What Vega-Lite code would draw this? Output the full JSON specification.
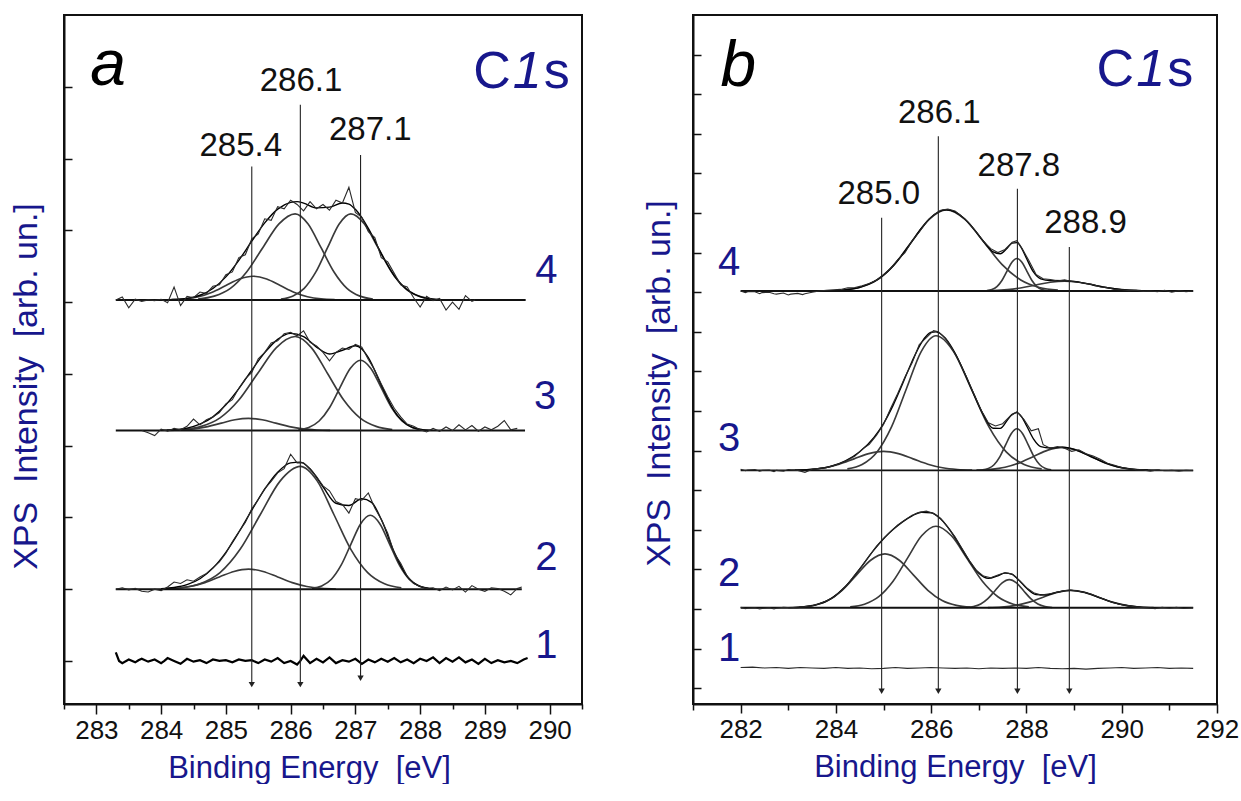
{
"$schema": "https://vega.github.io/schema/vega-lite/v6.json",
"background": "white",
"padding": {"left": 8, "top": 14, "right": 15, "bottom": 0},
"config": {"view": {"stroke": "#111", "strokeWidth": 2}, "font": "Liberation Sans"},
"spacing": 57,
"resolve": {"scale": {"x": "independent", "y": "independent"}},
"datasets": {
"A": [
{"s":"4b","k":"b","x":283.3,"y":6.03},{"s":"4b","k":"b","x":289.63,"y":6.03},
{"s":"4c1","k":"c","x":284.16,"y":6.034},{"s":"4c1","k":"c","x":284.37,"y":6.044},{"s":"4c1","k":"c","x":284.58,"y":6.075},{"s":"4c1","k":"c","x":284.79,"y":6.137},{"s":"4c1","k":"c","x":285.0,"y":6.23},{"s":"4c1","k":"c","x":285.21,"y":6.321},{"s":"4c1","k":"c","x":285.42,"y":6.36},{"s":"4c1","k":"c","x":285.63,"y":6.321},{"s":"4c1","k":"c","x":285.84,"y":6.23},{"s":"4c1","k":"c","x":286.05,"y":6.137},{"s":"4c1","k":"c","x":286.26,"y":6.075},{"s":"4c1","k":"c","x":286.47,"y":6.044},{"s":"4c1","k":"c","x":286.68,"y":6.034},
{"s":"4c2","k":"c","x":284.57,"y":6.043},{"s":"4c2","k":"c","x":284.82,"y":6.083},{"s":"4c2","k":"c","x":285.07,"y":6.192},{"s":"4c2","k":"c","x":285.32,"y":6.42},{"s":"4c2","k":"c","x":285.57,"y":6.758},{"s":"4c2","k":"c","x":285.82,"y":7.089},{"s":"4c2","k":"c","x":286.07,"y":7.23},{"s":"4c2","k":"c","x":286.27,"y":7.089},{"s":"4c2","k":"c","x":286.47,"y":6.758},{"s":"4c2","k":"c","x":286.67,"y":6.42},{"s":"4c2","k":"c","x":286.87,"y":6.192},{"s":"4c2","k":"c","x":287.07,"y":6.083},{"s":"4c2","k":"c","x":287.27,"y":6.043},
{"s":"4c3","k":"c","x":285.85,"y":6.043},{"s":"4c3","k":"c","x":286.03,"y":6.083},{"s":"4c3","k":"c","x":286.21,"y":6.192},{"s":"4c3","k":"c","x":286.39,"y":6.42},{"s":"4c3","k":"c","x":286.57,"y":6.758},{"s":"4c3","k":"c","x":286.75,"y":7.089},{"s":"4c3","k":"c","x":286.93,"y":7.23},{"s":"4c3","k":"c","x":287.14,"y":7.089},{"s":"4c3","k":"c","x":287.35,"y":6.758},{"s":"4c3","k":"c","x":287.56,"y":6.42},{"s":"4c3","k":"c","x":287.77,"y":6.192},{"s":"4c3","k":"c","x":287.98,"y":6.083},{"s":"4c3","k":"c","x":288.19,"y":6.043},
{"s":"4f","k":"f","x":284.0,"y":6.031},{"s":"4f","k":"f","x":284.2,"y":6.036},{"s":"4f","k":"f","x":284.4,"y":6.051},{"s":"4f","k":"f","x":284.6,"y":6.095},{"s":"4f","k":"f","x":284.8,"y":6.189},{"s":"4f","k":"f","x":285.0,"y":6.351},{"s":"4f","k":"f","x":285.2,"y":6.582},{"s":"4f","k":"f","x":285.4,"y":6.849},{"s":"4f","k":"f","x":285.6,"y":7.103},{"s":"4f","k":"f","x":285.8,"y":7.295},{"s":"4f","k":"f","x":286.0,"y":7.389},{"s":"4f","k":"f","x":286.1,"y":7.4},{"s":"4f","k":"f","x":286.2,"y":7.38},{"s":"4f","k":"f","x":286.4,"y":7.313},{"s":"4f","k":"f","x":286.6,"y":7.323},{"s":"4f","k":"f","x":286.8,"y":7.381},{"s":"4f","k":"f","x":286.9,"y":7.366},{"s":"4f","k":"f","x":287.0,"y":7.293},{"s":"4f","k":"f","x":287.2,"y":7.029},{"s":"4f","k":"f","x":287.4,"y":6.676},{"s":"4f","k":"f","x":287.6,"y":6.366},{"s":"4f","k":"f","x":287.8,"y":6.171},{"s":"4f","k":"f","x":288.0,"y":6.077},{"s":"4f","k":"f","x":288.2,"y":6.043},{"s":"4f","k":"f","x":288.4,"y":6.032},
{"s":"4r","k":"r","x":283.3,"y":6.03},{"s":"4r","k":"r","x":283.4,"y":6.07},{"s":"4r","k":"r","x":283.5,"y":5.92},{"s":"4r","k":"r","x":283.6,"y":6.04},{"s":"4r","k":"r","x":283.7,"y":6.01},{"s":"4r","k":"r","x":283.8,"y":6.03},{"s":"4r","k":"r","x":283.9,"y":6.02},{"s":"4r","k":"r","x":284.0,"y":6.04},{"s":"4r","k":"r","x":284.1,"y":5.99},{"s":"4r","k":"r","x":284.2,"y":6.21},{"s":"4r","k":"r","x":284.3,"y":5.95},{"s":"4r","k":"r","x":284.4,"y":6.08},{"s":"4r","k":"r","x":284.5,"y":6.06},{"s":"4r","k":"r","x":284.6,"y":6.14},{"s":"4r","k":"r","x":284.7,"y":6.12},{"s":"4r","k":"r","x":284.8,"y":6.22},{"s":"4r","k":"r","x":284.9,"y":6.24},{"s":"4r","k":"r","x":285.0,"y":6.38},{"s":"4r","k":"r","x":285.1,"y":6.42},{"s":"4r","k":"r","x":285.2,"y":6.62},{"s":"4r","k":"r","x":285.3,"y":6.66},{"s":"4r","k":"r","x":285.4,"y":6.88},{"s":"4r","k":"r","x":285.5,"y":6.95},{"s":"4r","k":"r","x":285.6,"y":7.16},{"s":"4r","k":"r","x":285.7,"y":7.14},{"s":"4r","k":"r","x":285.8,"y":7.33},{"s":"4r","k":"r","x":285.9,"y":7.3},{"s":"4r","k":"r","x":286.0,"y":7.42},{"s":"4r","k":"r","x":286.1,"y":7.36},{"s":"4r","k":"r","x":286.2,"y":7.27},{"s":"4r","k":"r","x":286.3,"y":7.4},{"s":"4r","k":"r","x":286.4,"y":7.3},{"s":"4r","k":"r","x":286.5,"y":7.36},{"s":"4r","k":"r","x":286.6,"y":7.28},{"s":"4r","k":"r","x":286.7,"y":7.42},{"s":"4r","k":"r","x":286.8,"y":7.38},{"s":"4r","k":"r","x":286.9,"y":7.6},{"s":"4r","k":"r","x":287.0,"y":7.25},{"s":"4r","k":"r","x":287.1,"y":7.18},{"s":"4r","k":"r","x":287.2,"y":6.98},{"s":"4r","k":"r","x":287.3,"y":6.9},{"s":"4r","k":"r","x":287.4,"y":6.62},{"s":"4r","k":"r","x":287.5,"y":6.56},{"s":"4r","k":"r","x":287.6,"y":6.4},{"s":"4r","k":"r","x":287.7,"y":6.24},{"s":"4r","k":"r","x":287.8,"y":6.21},{"s":"4r","k":"r","x":287.9,"y":6.06},{"s":"4r","k":"r","x":288.0,"y":5.93},{"s":"4r","k":"r","x":288.1,"y":6.08},{"s":"4r","k":"r","x":288.2,"y":6.02},{"s":"4r","k":"r","x":288.3,"y":6.05},{"s":"4r","k":"r","x":288.4,"y":5.89},{"s":"4r","k":"r","x":288.5,"y":6.0},{"s":"4r","k":"r","x":288.6,"y":5.9},{"s":"4r","k":"r","x":288.7,"y":6.09},{"s":"4r","k":"r","x":288.8,"y":6.01},{"s":"4r","k":"r","x":288.85,"y":6.03},
{"s":"3b","k":"b","x":283.3,"y":4.21},{"s":"3b","k":"b","x":289.62,"y":4.21},
{"s":"3c1","k":"c","x":284.09,"y":4.212},{"s":"3c1","k":"c","x":284.3,"y":4.218},{"s":"3c1","k":"c","x":284.51,"y":4.233},{"s":"3c1","k":"c","x":284.72,"y":4.265},{"s":"3c1","k":"c","x":284.93,"y":4.313},{"s":"3c1","k":"c","x":285.14,"y":4.36},{"s":"3c1","k":"c","x":285.35,"y":4.38},{"s":"3c1","k":"c","x":285.56,"y":4.36},{"s":"3c1","k":"c","x":285.77,"y":4.313},{"s":"3c1","k":"c","x":285.98,"y":4.265},{"s":"3c1","k":"c","x":286.19,"y":4.233},{"s":"3c1","k":"c","x":286.4,"y":4.218},{"s":"3c1","k":"c","x":286.61,"y":4.212},
{"s":"3c2","k":"c","x":284.33,"y":4.225},{"s":"3c2","k":"c","x":284.62,"y":4.268},{"s":"3c2","k":"c","x":284.91,"y":4.387},{"s":"3c2","k":"c","x":285.2,"y":4.635},{"s":"3c2","k":"c","x":285.49,"y":5.005},{"s":"3c2","k":"c","x":285.78,"y":5.366},{"s":"3c2","k":"c","x":286.07,"y":5.52},{"s":"3c2","k":"c","x":286.32,"y":5.366},{"s":"3c2","k":"c","x":286.57,"y":5.005},{"s":"3c2","k":"c","x":286.82,"y":4.635},{"s":"3c2","k":"c","x":287.07,"y":4.387},{"s":"3c2","k":"c","x":287.32,"y":4.268},{"s":"3c2","k":"c","x":287.57,"y":4.225},
{"s":"3c3","k":"c","x":286.12,"y":4.221},{"s":"3c3","k":"c","x":286.28,"y":4.253},{"s":"3c3","k":"c","x":286.44,"y":4.343},{"s":"3c3","k":"c","x":286.6,"y":4.528},{"s":"3c3","k":"c","x":286.76,"y":4.804},{"s":"3c3","k":"c","x":286.92,"y":5.075},{"s":"3c3","k":"c","x":287.08,"y":5.19},{"s":"3c3","k":"c","x":287.24,"y":5.075},{"s":"3c3","k":"c","x":287.4,"y":4.804},{"s":"3c3","k":"c","x":287.56,"y":4.528},{"s":"3c3","k":"c","x":287.72,"y":4.343},{"s":"3c3","k":"c","x":287.88,"y":4.253},{"s":"3c3","k":"c","x":288.04,"y":4.221},
{"s":"3f","k":"f","x":284.0,"y":4.213},{"s":"3f","k":"f","x":284.2,"y":4.221},{"s":"3f","k":"f","x":284.4,"y":4.244},{"s":"3f","k":"f","x":284.6,"y":4.298},{"s":"3f","k":"f","x":284.8,"y":4.401},{"s":"3f","k":"f","x":285.0,"y":4.569},{"s":"3f","k":"f","x":285.2,"y":4.794},{"s":"3f","k":"f","x":285.4,"y":5.051},{"s":"3f","k":"f","x":285.6,"y":5.295},{"s":"3f","k":"f","x":285.8,"y":5.481},{"s":"3f","k":"f","x":286.0,"y":5.564},{"s":"3f","k":"f","x":286.2,"y":5.52},{"s":"3f","k":"f","x":286.4,"y":5.373},{"s":"3f","k":"f","x":286.6,"y":5.277},{"s":"3f","k":"f","x":286.8,"y":5.329},{"s":"3f","k":"f","x":287.0,"y":5.392},{"s":"3f","k":"f","x":287.1,"y":5.345},{"s":"3f","k":"f","x":287.2,"y":5.225},{"s":"3f","k":"f","x":287.4,"y":4.843},{"s":"3f","k":"f","x":287.6,"y":4.484},{"s":"3f","k":"f","x":287.8,"y":4.291},{"s":"3f","k":"f","x":288.0,"y":4.226},{"s":"3f","k":"f","x":288.2,"y":4.212},
{"s":"3r","k":"r","x":283.7,"y":4.21},{"s":"3r","k":"r","x":283.8,"y":4.18},{"s":"3r","k":"r","x":283.9,"y":4.14},{"s":"3r","k":"r","x":284.0,"y":4.23},{"s":"3r","k":"r","x":284.1,"y":4.2},{"s":"3r","k":"r","x":284.2,"y":4.24},{"s":"3r","k":"r","x":284.3,"y":4.22},{"s":"3r","k":"r","x":284.4,"y":4.27},{"s":"3r","k":"r","x":284.5,"y":4.37},{"s":"3r","k":"r","x":284.6,"y":4.29},{"s":"3r","k":"r","x":284.7,"y":4.36},{"s":"3r","k":"r","x":284.8,"y":4.4},{"s":"3r","k":"r","x":284.9,"y":4.46},{"s":"3r","k":"r","x":285.0,"y":4.58},{"s":"3r","k":"r","x":285.1,"y":4.64},{"s":"3r","k":"r","x":285.2,"y":4.8},{"s":"3r","k":"r","x":285.3,"y":4.93},{"s":"3r","k":"r","x":285.4,"y":5.02},{"s":"3r","k":"r","x":285.5,"y":5.21},{"s":"3r","k":"r","x":285.6,"y":5.3},{"s":"3r","k":"r","x":285.7,"y":5.43},{"s":"3r","k":"r","x":285.8,"y":5.46},{"s":"3r","k":"r","x":285.9,"y":5.56},{"s":"3r","k":"r","x":286.0,"y":5.58},{"s":"3r","k":"r","x":286.1,"y":5.53},{"s":"3r","k":"r","x":286.2,"y":5.6},{"s":"3r","k":"r","x":286.3,"y":5.44},{"s":"3r","k":"r","x":286.4,"y":5.39},{"s":"3r","k":"r","x":286.5,"y":5.3},{"s":"3r","k":"r","x":286.6,"y":5.18},{"s":"3r","k":"r","x":286.7,"y":5.3},{"s":"3r","k":"r","x":286.8,"y":5.36},{"s":"3r","k":"r","x":286.9,"y":5.34},{"s":"3r","k":"r","x":287.0,"y":5.41},{"s":"3r","k":"r","x":287.1,"y":5.37},{"s":"3r","k":"r","x":287.2,"y":5.2},{"s":"3r","k":"r","x":287.3,"y":5.05},{"s":"3r","k":"r","x":287.4,"y":4.86},{"s":"3r","k":"r","x":287.5,"y":4.68},{"s":"3r","k":"r","x":287.6,"y":4.52},{"s":"3r","k":"r","x":287.7,"y":4.4},{"s":"3r","k":"r","x":287.8,"y":4.3},{"s":"3r","k":"r","x":287.9,"y":4.27},{"s":"3r","k":"r","x":288.0,"y":4.22},{"s":"3r","k":"r","x":288.1,"y":4.19},{"s":"3r","k":"r","x":288.2,"y":4.24},{"s":"3r","k":"r","x":288.3,"y":4.2},{"s":"3r","k":"r","x":288.4,"y":4.26},{"s":"3r","k":"r","x":288.5,"y":4.21},{"s":"3r","k":"r","x":288.6,"y":4.29},{"s":"3r","k":"r","x":288.7,"y":4.22},{"s":"3r","k":"r","x":288.8,"y":4.28},{"s":"3r","k":"r","x":288.9,"y":4.2},{"s":"3r","k":"r","x":289.0,"y":4.26},{"s":"3r","k":"r","x":289.1,"y":4.22},{"s":"3r","k":"r","x":289.2,"y":4.27},{"s":"3r","k":"r","x":289.3,"y":4.35},{"s":"3r","k":"r","x":289.4,"y":4.22},{"s":"3r","k":"r","x":289.5,"y":4.24},
{"s":"2b","k":"b","x":283.3,"y":2.0},{"s":"2b","k":"b","x":289.57,"y":2.0},
{"s":"2c1","k":"c","x":284.0,"y":2.003},{"s":"2c1","k":"c","x":284.225,"y":2.012},{"s":"2c1","k":"c","x":284.45,"y":2.038},{"s":"2c1","k":"c","x":284.675,"y":2.091},{"s":"2c1","k":"c","x":284.9,"y":2.17},{"s":"2c1","k":"c","x":285.125,"y":2.247},{"s":"2c1","k":"c","x":285.35,"y":2.28},{"s":"2c1","k":"c","x":285.575,"y":2.247},{"s":"2c1","k":"c","x":285.8,"y":2.17},{"s":"2c1","k":"c","x":286.025,"y":2.091},{"s":"2c1","k":"c","x":286.25,"y":2.038},{"s":"2c1","k":"c","x":286.475,"y":2.012},{"s":"2c1","k":"c","x":286.7,"y":2.003},
{"s":"2c2","k":"c","x":284.29,"y":2.019},{"s":"2c2","k":"c","x":284.6,"y":2.075},{"s":"2c2","k":"c","x":284.91,"y":2.231},{"s":"2c2","k":"c","x":285.22,"y":2.555},{"s":"2c2","k":"c","x":285.53,"y":3.037},{"s":"2c2","k":"c","x":285.84,"y":3.509},{"s":"2c2","k":"c","x":286.15,"y":3.71},{"s":"2c2","k":"c","x":286.41,"y":3.509},{"s":"2c2","k":"c","x":286.67,"y":3.037},{"s":"2c2","k":"c","x":286.93,"y":2.555},{"s":"2c2","k":"c","x":287.19,"y":2.231},{"s":"2c2","k":"c","x":287.45,"y":2.075},{"s":"2c2","k":"c","x":287.71,"y":2.019},
{"s":"2c3","k":"c","x":286.33,"y":2.011},{"s":"2c3","k":"c","x":286.48,"y":2.045},{"s":"2c3","k":"c","x":286.63,"y":2.139},{"s":"2c3","k":"c","x":286.78,"y":2.334},{"s":"2c3","k":"c","x":286.93,"y":2.625},{"s":"2c3","k":"c","x":287.08,"y":2.909},{"s":"2c3","k":"c","x":287.23,"y":3.03},{"s":"2c3","k":"c","x":287.38,"y":2.909},{"s":"2c3","k":"c","x":287.53,"y":2.625},{"s":"2c3","k":"c","x":287.68,"y":2.334},{"s":"2c3","k":"c","x":287.83,"y":2.139},{"s":"2c3","k":"c","x":287.98,"y":2.045},{"s":"2c3","k":"c","x":288.13,"y":2.011},
{"s":"2f","k":"f","x":284.0,"y":2.007},{"s":"2f","k":"f","x":284.2,"y":2.023},{"s":"2f","k":"f","x":284.4,"y":2.062},{"s":"2f","k":"f","x":284.6,"y":2.145},{"s":"2f","k":"f","x":284.8,"y":2.293},{"s":"2f","k":"f","x":285.0,"y":2.513},{"s":"2f","k":"f","x":285.2,"y":2.793},{"s":"2f","k":"f","x":285.4,"y":3.101},{"s":"2f","k":"f","x":285.6,"y":3.394},{"s":"2f","k":"f","x":285.8,"y":3.629},{"s":"2f","k":"f","x":286.0,"y":3.76},{"s":"2f","k":"f","x":286.15,"y":3.77},{"s":"2f","k":"f","x":286.3,"y":3.678},{"s":"2f","k":"f","x":286.5,"y":3.427},{"s":"2f","k":"f","x":286.7,"y":3.197},{"s":"2f","k":"f","x":286.9,"y":3.166},{"s":"2f","k":"f","x":287.1,"y":3.259},{"s":"2f","k":"f","x":287.25,"y":3.21},{"s":"2f","k":"f","x":287.4,"y":2.972},{"s":"2f","k":"f","x":287.6,"y":2.516},{"s":"2f","k":"f","x":287.8,"y":2.18},{"s":"2f","k":"f","x":288.0,"y":2.04},{"s":"2f","k":"f","x":288.2,"y":2.006},
{"s":"2r","k":"r","x":283.3,"y":2.0},{"s":"2r","k":"r","x":283.4,"y":2.02},{"s":"2r","k":"r","x":283.5,"y":1.99},{"s":"2r","k":"r","x":283.6,"y":2.01},{"s":"2r","k":"r","x":283.7,"y":1.97},{"s":"2r","k":"r","x":283.8,"y":1.96},{"s":"2r","k":"r","x":283.9,"y":2.0},{"s":"2r","k":"r","x":284.0,"y":1.98},{"s":"2r","k":"r","x":284.1,"y":2.03},{"s":"2r","k":"r","x":284.2,"y":2.1},{"s":"2r","k":"r","x":284.3,"y":2.08},{"s":"2r","k":"r","x":284.4,"y":2.13},{"s":"2r","k":"r","x":284.5,"y":2.11},{"s":"2r","k":"r","x":284.6,"y":2.17},{"s":"2r","k":"r","x":284.7,"y":2.22},{"s":"2r","k":"r","x":284.8,"y":2.3},{"s":"2r","k":"r","x":284.9,"y":2.38},{"s":"2r","k":"r","x":285.0,"y":2.5},{"s":"2r","k":"r","x":285.1,"y":2.66},{"s":"2r","k":"r","x":285.2,"y":2.8},{"s":"2r","k":"r","x":285.3,"y":2.93},{"s":"2r","k":"r","x":285.4,"y":3.12},{"s":"2r","k":"r","x":285.5,"y":3.25},{"s":"2r","k":"r","x":285.6,"y":3.4},{"s":"2r","k":"r","x":285.7,"y":3.5},{"s":"2r","k":"r","x":285.8,"y":3.62},{"s":"2r","k":"r","x":285.9,"y":3.68},{"s":"2r","k":"r","x":286.0,"y":3.88},{"s":"2r","k":"r","x":286.1,"y":3.76},{"s":"2r","k":"r","x":286.2,"y":3.76},{"s":"2r","k":"r","x":286.3,"y":3.67},{"s":"2r","k":"r","x":286.4,"y":3.57},{"s":"2r","k":"r","x":286.5,"y":3.44},{"s":"2r","k":"r","x":286.6,"y":3.37},{"s":"2r","k":"r","x":286.7,"y":3.22},{"s":"2r","k":"r","x":286.8,"y":3.18},{"s":"2r","k":"r","x":286.9,"y":3.06},{"s":"2r","k":"r","x":287.0,"y":3.26},{"s":"2r","k":"r","x":287.1,"y":3.24},{"s":"2r","k":"r","x":287.2,"y":3.34},{"s":"2r","k":"r","x":287.3,"y":3.13},{"s":"2r","k":"r","x":287.4,"y":2.97},{"s":"2r","k":"r","x":287.5,"y":2.78},{"s":"2r","k":"r","x":287.6,"y":2.5},{"s":"2r","k":"r","x":287.7,"y":2.36},{"s":"2r","k":"r","x":287.8,"y":2.18},{"s":"2r","k":"r","x":287.9,"y":2.08},{"s":"2r","k":"r","x":288.0,"y":2.04},{"s":"2r","k":"r","x":288.1,"y":2.01},{"s":"2r","k":"r","x":288.2,"y":2.02},{"s":"2r","k":"r","x":288.3,"y":1.98},{"s":"2r","k":"r","x":288.4,"y":2.03},{"s":"2r","k":"r","x":288.5,"y":1.99},{"s":"2r","k":"r","x":288.6,"y":2.04},{"s":"2r","k":"r","x":288.7,"y":1.96},{"s":"2r","k":"r","x":288.8,"y":2.05},{"s":"2r","k":"r","x":288.9,"y":2.0},{"s":"2r","k":"r","x":289.0,"y":1.97},{"s":"2r","k":"r","x":289.1,"y":2.02},{"s":"2r","k":"r","x":289.2,"y":2.01},{"s":"2r","k":"r","x":289.3,"y":1.97},{"s":"2r","k":"r","x":289.4,"y":1.92},{"s":"2r","k":"r","x":289.5,"y":2.01},{"s":"2r","k":"r","x":289.57,"y":2.03},
{"s":"1n","k":"n","x":283.3,"y":1.12},{"s":"1n","k":"n","x":283.35,"y":1.0},{"s":"1n","k":"n","x":283.4,"y":0.97},{"s":"1n","k":"n","x":283.5,"y":1.02},{"s":"1n","k":"n","x":283.6,"y":0.98},{"s":"1n","k":"n","x":283.65,"y":1.01},{"s":"1n","k":"n","x":283.7,"y":1.03},{"s":"1n","k":"n","x":283.8,"y":0.99},{"s":"1n","k":"n","x":283.9,"y":1.02},{"s":"1n","k":"n","x":284.0,"y":0.97},{"s":"1n","k":"n","x":284.05,"y":1.0},{"s":"1n","k":"n","x":284.1,"y":1.04},{"s":"1n","k":"n","x":284.2,"y":1.0},{"s":"1n","k":"n","x":284.3,"y":0.96},{"s":"1n","k":"n","x":284.4,"y":1.03},{"s":"1n","k":"n","x":284.5,"y":0.99},{"s":"1n","k":"n","x":284.55,"y":1.0},{"s":"1n","k":"n","x":284.6,"y":1.01},{"s":"1n","k":"n","x":284.7,"y":0.97},{"s":"1n","k":"n","x":284.8,"y":1.02},{"s":"1n","k":"n","x":284.9,"y":1.0},{"s":"1n","k":"n","x":285.0,"y":1.01},{"s":"1n","k":"n","x":285.1,"y":0.98},{"s":"1n","k":"n","x":285.2,"y":1.02},{"s":"1n","k":"n","x":285.3,"y":1.0},{"s":"1n","k":"n","x":285.4,"y":1.01},{"s":"1n","k":"n","x":285.5,"y":0.97},{"s":"1n","k":"n","x":285.6,"y":1.02},{"s":"1n","k":"n","x":285.7,"y":0.99},{"s":"1n","k":"n","x":285.8,"y":1.04},{"s":"1n","k":"n","x":285.9,"y":0.97},{"s":"1n","k":"n","x":286.0,"y":1.0},{"s":"1n","k":"n","x":286.1,"y":0.95},{"s":"1n","k":"n","x":286.15,"y":1.0},{"s":"1n","k":"n","x":286.2,"y":1.07},{"s":"1n","k":"n","x":286.3,"y":0.97},{"s":"1n","k":"n","x":286.4,"y":1.03},{"s":"1n","k":"n","x":286.5,"y":0.98},{"s":"1n","k":"n","x":286.6,"y":1.05},{"s":"1n","k":"n","x":286.7,"y":0.97},{"s":"1n","k":"n","x":286.8,"y":1.01},{"s":"1n","k":"n","x":286.9,"y":0.99},{"s":"1n","k":"n","x":287.0,"y":1.03},{"s":"1n","k":"n","x":287.1,"y":0.96},{"s":"1n","k":"n","x":287.2,"y":1.02},{"s":"1n","k":"n","x":287.3,"y":0.98},{"s":"1n","k":"n","x":287.4,"y":1.03},{"s":"1n","k":"n","x":287.5,"y":0.99},{"s":"1n","k":"n","x":287.6,"y":1.04},{"s":"1n","k":"n","x":287.7,"y":0.98},{"s":"1n","k":"n","x":287.8,"y":1.02},{"s":"1n","k":"n","x":287.9,"y":0.97},{"s":"1n","k":"n","x":288.0,"y":1.03},{"s":"1n","k":"n","x":288.1,"y":1.0},{"s":"1n","k":"n","x":288.2,"y":1.05},{"s":"1n","k":"n","x":288.3,"y":0.97},{"s":"1n","k":"n","x":288.4,"y":1.04},{"s":"1n","k":"n","x":288.5,"y":0.99},{"s":"1n","k":"n","x":288.6,"y":1.05},{"s":"1n","k":"n","x":288.7,"y":0.98},{"s":"1n","k":"n","x":288.8,"y":1.02},{"s":"1n","k":"n","x":288.9,"y":0.96},{"s":"1n","k":"n","x":289.0,"y":1.03},{"s":"1n","k":"n","x":289.1,"y":0.97},{"s":"1n","k":"n","x":289.2,"y":1.01},{"s":"1n","k":"n","x":289.3,"y":0.98},{"s":"1n","k":"n","x":289.4,"y":1.0},{"s":"1n","k":"n","x":289.5,"y":0.97},{"s":"1n","k":"n","x":289.6,"y":1.02},{"s":"1n","k":"n","x":289.66,"y":1.04}
],
"B": [
{"s":"4b","k":"b","x":282.0,"y":11.03},{"s":"4b","k":"b","x":291.5,"y":11.03},
{"s":"4c1","k":"c","x":284.13,"y":11.053},{"s":"4c1","k":"c","x":284.495,"y":11.12},{"s":"4c1","k":"c","x":284.86,"y":11.307},{"s":"4c1","k":"c","x":285.225,"y":11.696},{"s":"4c1","k":"c","x":285.59,"y":12.273},{"s":"4c1","k":"c","x":285.955,"y":12.839},{"s":"4c1","k":"c","x":286.32,"y":13.08},{"s":"4c1","k":"c","x":286.71,"y":12.839},{"s":"4c1","k":"c","x":287.1,"y":12.273},{"s":"4c1","k":"c","x":287.49,"y":11.696},{"s":"4c1","k":"c","x":287.88,"y":11.307},{"s":"4c1","k":"c","x":288.27,"y":11.12},{"s":"4c1","k":"c","x":288.66,"y":11.053},
{"s":"4c2","k":"c","x":287.17,"y":11.039},{"s":"4c2","k":"c","x":287.275,"y":11.066},{"s":"4c2","k":"c","x":287.38,"y":11.141},{"s":"4c2","k":"c","x":287.485,"y":11.296},{"s":"4c2","k":"c","x":287.59,"y":11.527},{"s":"4c2","k":"c","x":287.695,"y":11.754},{"s":"4c2","k":"c","x":287.8,"y":11.85},{"s":"4c2","k":"c","x":287.905,"y":11.754},{"s":"4c2","k":"c","x":288.01,"y":11.527},{"s":"4c2","k":"c","x":288.115,"y":11.296},{"s":"4c2","k":"c","x":288.22,"y":11.141},{"s":"4c2","k":"c","x":288.325,"y":11.066},{"s":"4c2","k":"c","x":288.43,"y":11.039},
{"s":"4c3","k":"c","x":287.0,"y":11.033},{"s":"4c3","k":"c","x":287.3,"y":11.041},{"s":"4c3","k":"c","x":287.6,"y":11.064},{"s":"4c3","k":"c","x":287.9,"y":11.111},{"s":"4c3","k":"c","x":288.2,"y":11.182},{"s":"4c3","k":"c","x":288.5,"y":11.251},{"s":"4c3","k":"c","x":288.8,"y":11.28},{"s":"4c3","k":"c","x":289.1,"y":11.251},{"s":"4c3","k":"c","x":289.4,"y":11.182},{"s":"4c3","k":"c","x":289.7,"y":11.111},{"s":"4c3","k":"c","x":290.0,"y":11.064},{"s":"4c3","k":"c","x":290.3,"y":11.041},{"s":"4c3","k":"c","x":290.6,"y":11.033},
{"s":"4f","k":"f","x":283.6,"y":11.032},{"s":"4f","k":"f","x":283.9,"y":11.038},{"s":"4f","k":"f","x":284.2,"y":11.06},{"s":"4f","k":"f","x":284.5,"y":11.122},{"s":"4f","k":"f","x":284.8,"y":11.265},{"s":"4f","k":"f","x":285.0,"y":11.43},{"s":"4f","k":"f","x":285.2,"y":11.662},{"s":"4f","k":"f","x":285.4,"y":11.957},{"s":"4f","k":"f","x":285.6,"y":12.291},{"s":"4f","k":"f","x":285.8,"y":12.62},{"s":"4f","k":"f","x":286.0,"y":12.892},{"s":"4f","k":"f","x":286.2,"y":13.053},{"s":"4f","k":"f","x":286.32,"y":13.08},{"s":"4f","k":"f","x":286.5,"y":13.026},{"s":"4f","k":"f","x":286.7,"y":12.852},{"s":"4f","k":"f","x":286.9,"y":12.587},{"s":"4f","k":"f","x":287.1,"y":12.281},{"s":"4f","k":"f","x":287.3,"y":12.02},{"s":"4f","k":"f","x":287.45,"y":11.972},{"s":"4f","k":"f","x":287.6,"y":12.119},{"s":"4f","k":"f","x":287.7,"y":12.238},{"s":"4f","k":"f","x":287.8,"y":12.251},{"s":"4f","k":"f","x":287.9,"y":12.106},{"s":"4f","k":"f","x":288.0,"y":11.856},{"s":"4f","k":"f","x":288.15,"y":11.504},{"s":"4f","k":"f","x":288.3,"y":11.337},{"s":"4f","k":"f","x":288.5,"y":11.295},{"s":"4f","k":"f","x":288.8,"y":11.293},{"s":"4f","k":"f","x":289.1,"y":11.254},{"s":"4f","k":"f","x":289.4,"y":11.182},{"s":"4f","k":"f","x":289.7,"y":11.111},{"s":"4f","k":"f","x":290.0,"y":11.064},{"s":"4f","k":"f","x":290.3,"y":11.041},{"s":"4f","k":"f","x":290.6,"y":11.033},
{"s":"4r","k":"r","x":282.0,"y":11.03},{"s":"4r","k":"r","x":282.1,"y":10.99},{"s":"4r","k":"r","x":282.15,"y":11.01},{"s":"4r","k":"r","x":282.3,"y":11.01},{"s":"4r","k":"r","x":282.4,"y":10.96},{"s":"4r","k":"r","x":282.45,"y":10.99},{"s":"4r","k":"r","x":282.6,"y":11.0},{"s":"4r","k":"r","x":282.7,"y":10.96},{"s":"4r","k":"r","x":282.75,"y":10.95},{"s":"4r","k":"r","x":282.9,"y":10.98},{"s":"4r","k":"r","x":283.0,"y":10.93},{"s":"4r","k":"r","x":283.05,"y":10.95},{"s":"4r","k":"r","x":283.2,"y":10.97},{"s":"4r","k":"r","x":283.3,"y":10.94},{"s":"4r","k":"r","x":283.35,"y":10.96},{"s":"4r","k":"r","x":283.5,"y":11.0},{"s":"4r","k":"r","x":283.65,"y":11.03},{"s":"4r","k":"r","x":283.8,"y":11.05},{"s":"4r","k":"r","x":283.95,"y":11.06},{"s":"4r","k":"r","x":284.1,"y":11.07},{"s":"4r","k":"r","x":284.25,"y":11.11},{"s":"4r","k":"r","x":284.4,"y":11.12},{"s":"4r","k":"r","x":284.55,"y":11.16},{"s":"4r","k":"r","x":284.7,"y":11.22},{"s":"4r","k":"r","x":284.85,"y":11.3},{"s":"4r","k":"r","x":285.0,"y":11.44},{"s":"4r","k":"r","x":285.15,"y":11.6},{"s":"4r","k":"r","x":285.3,"y":11.82},{"s":"4r","k":"r","x":285.45,"y":12.0},{"s":"4r","k":"r","x":285.6,"y":12.3},{"s":"4r","k":"r","x":285.75,"y":12.52},{"s":"4r","k":"r","x":285.9,"y":12.77},{"s":"4r","k":"r","x":286.05,"y":12.95},{"s":"4r","k":"r","x":286.2,"y":13.07},{"s":"4r","k":"r","x":286.35,"y":13.1},{"s":"4r","k":"r","x":286.5,"y":13.05},{"s":"4r","k":"r","x":286.65,"y":12.91},{"s":"4r","k":"r","x":286.8,"y":12.73},{"s":"4r","k":"r","x":286.95,"y":12.52},{"s":"4r","k":"r","x":287.1,"y":12.28},{"s":"4r","k":"r","x":287.25,"y":12.1},{"s":"4r","k":"r","x":287.4,"y":12.0},{"s":"4r","k":"r","x":287.55,"y":12.08},{"s":"4r","k":"r","x":287.7,"y":12.26},{"s":"4r","k":"r","x":287.8,"y":12.3},{"s":"4r","k":"r","x":287.9,"y":12.12},{"s":"4r","k":"r","x":288.05,"y":11.8},{"s":"4r","k":"r","x":288.2,"y":11.45},{"s":"4r","k":"r","x":288.35,"y":11.34},{"s":"4r","k":"r","x":288.5,"y":11.32},{"s":"4r","k":"r","x":288.65,"y":11.28},{"s":"4r","k":"r","x":288.8,"y":11.31},{"s":"4r","k":"r","x":288.95,"y":11.27},{"s":"4r","k":"r","x":289.1,"y":11.25},{"s":"4r","k":"r","x":289.25,"y":11.22},{"s":"4r","k":"r","x":289.4,"y":11.19},{"s":"4r","k":"r","x":289.55,"y":11.13},{"s":"4r","k":"r","x":289.7,"y":11.12},{"s":"4r","k":"r","x":289.85,"y":11.07},{"s":"4r","k":"r","x":290.0,"y":11.06},{"s":"4r","k":"r","x":290.15,"y":11.04},{"s":"4r","k":"r","x":290.3,"y":11.05},{"s":"4r","k":"r","x":290.45,"y":11.02},{"s":"4r","k":"r","x":290.6,"y":11.03},{"s":"4r","k":"r","x":290.75,"y":11.01},{"s":"4r","k":"r","x":290.9,"y":11.05},{"s":"4r","k":"r","x":291.05,"y":11.0},{"s":"4r","k":"r","x":291.2,"y":11.04},{"s":"4r","k":"r","x":291.35,"y":11.01},{"s":"4r","k":"r","x":291.5,"y":11.03},
{"s":"3b","k":"b","x":282.0,"y":6.5},{"s":"3b","k":"b","x":291.5,"y":6.5},
{"s":"3c1","k":"c","x":283.14,"y":6.505},{"s":"3c1","k":"c","x":283.45,"y":6.521},{"s":"3c1","k":"c","x":283.76,"y":6.565},{"s":"3c1","k":"c","x":284.07,"y":6.656},{"s":"3c1","k":"c","x":284.38,"y":6.791},{"s":"3c1","k":"c","x":284.69,"y":6.924},{"s":"3c1","k":"c","x":285.0,"y":6.98},{"s":"3c1","k":"c","x":285.31,"y":6.924},{"s":"3c1","k":"c","x":285.62,"y":6.791},{"s":"3c1","k":"c","x":285.93,"y":6.656},{"s":"3c1","k":"c","x":286.24,"y":6.565},{"s":"3c1","k":"c","x":286.55,"y":6.521},{"s":"3c1","k":"c","x":286.86,"y":6.505},
{"s":"3c2","k":"c","x":284.24,"y":6.538},{"s":"3c2","k":"c","x":284.55,"y":6.649},{"s":"3c2","k":"c","x":284.86,"y":6.96},{"s":"3c2","k":"c","x":285.17,"y":7.604},{"s":"3c2","k":"c","x":285.48,"y":8.562},{"s":"3c2","k":"c","x":285.79,"y":9.5},{"s":"3c2","k":"c","x":286.1,"y":9.9},{"s":"3c2","k":"c","x":286.47,"y":9.5},{"s":"3c2","k":"c","x":286.84,"y":8.562},{"s":"3c2","k":"c","x":287.21,"y":7.604},{"s":"3c2","k":"c","x":287.58,"y":6.96},{"s":"3c2","k":"c","x":287.95,"y":6.649},{"s":"3c2","k":"c","x":288.32,"y":6.538},
{"s":"3c3","k":"c","x":287.08,"y":6.512},{"s":"3c3","k":"c","x":287.2,"y":6.546},{"s":"3c3","k":"c","x":287.32,"y":6.642},{"s":"3c3","k":"c","x":287.44,"y":6.841},{"s":"3c3","k":"c","x":287.56,"y":7.137},{"s":"3c3","k":"c","x":287.68,"y":7.427},{"s":"3c3","k":"c","x":287.8,"y":7.55},{"s":"3c3","k":"c","x":287.92,"y":7.427},{"s":"3c3","k":"c","x":288.04,"y":7.137},{"s":"3c3","k":"c","x":288.16,"y":6.841},{"s":"3c3","k":"c","x":288.28,"y":6.642},{"s":"3c3","k":"c","x":288.4,"y":6.546},{"s":"3c3","k":"c","x":288.52,"y":6.512},
{"s":"3c4","k":"c","x":286.95,"y":6.506},{"s":"3c4","k":"c","x":287.25,"y":6.525},{"s":"3c4","k":"c","x":287.55,"y":6.578},{"s":"3c4","k":"c","x":287.85,"y":6.688},{"s":"3c4","k":"c","x":288.15,"y":6.852},{"s":"3c4","k":"c","x":288.45,"y":7.012},{"s":"3c4","k":"c","x":288.75,"y":7.08},{"s":"3c4","k":"c","x":289.05,"y":7.012},{"s":"3c4","k":"c","x":289.35,"y":6.852},{"s":"3c4","k":"c","x":289.65,"y":6.688},{"s":"3c4","k":"c","x":289.95,"y":6.578},{"s":"3c4","k":"c","x":290.25,"y":6.525},{"s":"3c4","k":"c","x":290.55,"y":6.506},
{"s":"3f","k":"f","x":283.0,"y":6.503},{"s":"3f","k":"f","x":283.3,"y":6.511},{"s":"3f","k":"f","x":283.6,"y":6.538},{"s":"3f","k":"f","x":283.9,"y":6.605},{"s":"3f","k":"f","x":284.2,"y":6.74},{"s":"3f","k":"f","x":284.5,"y":6.969},{"s":"3f","k":"f","x":284.8,"y":7.333},{"s":"3f","k":"f","x":285.0,"y":7.684},{"s":"3f","k":"f","x":285.2,"y":8.142},{"s":"3f","k":"f","x":285.4,"y":8.688},{"s":"3f","k":"f","x":285.6,"y":9.257},{"s":"3f","k":"f","x":285.8,"y":9.734},{"s":"3f","k":"f","x":286.0,"y":9.987},{"s":"3f","k":"f","x":286.1,"y":9.999},{"s":"3f","k":"f","x":286.3,"y":9.831},{"s":"3f","k":"f","x":286.5,"y":9.464},{"s":"3f","k":"f","x":286.7,"y":8.96},{"s":"3f","k":"f","x":286.9,"y":8.406},{"s":"3f","k":"f","x":287.1,"y":7.893},{"s":"3f","k":"f","x":287.3,"y":7.563},{"s":"3f","k":"f","x":287.45,"y":7.562},{"s":"3f","k":"f","x":287.6,"y":7.77},{"s":"3f","k":"f","x":287.7,"y":7.916},{"s":"3f","k":"f","x":287.8,"y":7.959},{"s":"3f","k":"f","x":287.9,"y":7.852},{"s":"3f","k":"f","x":288.0,"y":7.634},{"s":"3f","k":"f","x":288.15,"y":7.288},{"s":"3f","k":"f","x":288.3,"y":7.099},{"s":"3f","k":"f","x":288.5,"y":7.065},{"s":"3f","k":"f","x":288.75,"y":7.084},{"s":"3f","k":"f","x":289.0,"y":7.032},{"s":"3f","k":"f","x":289.3,"y":6.881},{"s":"3f","k":"f","x":289.6,"y":6.713},{"s":"3f","k":"f","x":289.9,"y":6.592},{"s":"3f","k":"f","x":290.2,"y":6.531},{"s":"3f","k":"f","x":290.5,"y":6.508},{"s":"3f","k":"f","x":290.8,"y":6.502},
{"s":"3r","k":"r","x":282.0,"y":6.53},{"s":"3r","k":"r","x":282.1,"y":6.49},{"s":"3r","k":"r","x":282.15,"y":6.51},{"s":"3r","k":"r","x":282.3,"y":6.52},{"s":"3r","k":"r","x":282.4,"y":6.48},{"s":"3r","k":"r","x":282.45,"y":6.5},{"s":"3r","k":"r","x":282.6,"y":6.51},{"s":"3r","k":"r","x":282.7,"y":6.47},{"s":"3r","k":"r","x":282.75,"y":6.5},{"s":"3r","k":"r","x":282.9,"y":6.48},{"s":"3r","k":"r","x":283.0,"y":6.52},{"s":"3r","k":"r","x":283.05,"y":6.51},{"s":"3r","k":"r","x":283.2,"y":6.5},{"s":"3r","k":"r","x":283.35,"y":6.45},{"s":"3r","k":"r","x":283.5,"y":6.53},{"s":"3r","k":"r","x":283.65,"y":6.55},{"s":"3r","k":"r","x":283.8,"y":6.57},{"s":"3r","k":"r","x":283.95,"y":6.62},{"s":"3r","k":"r","x":284.1,"y":6.68},{"s":"3r","k":"r","x":284.25,"y":6.76},{"s":"3r","k":"r","x":284.4,"y":6.86},{"s":"3r","k":"r","x":284.55,"y":7.03},{"s":"3r","k":"r","x":284.7,"y":7.16},{"s":"3r","k":"r","x":284.85,"y":7.38},{"s":"3r","k":"r","x":285.0,"y":7.66},{"s":"3r","k":"r","x":285.15,"y":8.07},{"s":"3r","k":"r","x":285.3,"y":8.45},{"s":"3r","k":"r","x":285.45,"y":8.86},{"s":"3r","k":"r","x":285.6,"y":9.22},{"s":"3r","k":"r","x":285.75,"y":9.68},{"s":"3r","k":"r","x":285.9,"y":9.85},{"s":"3r","k":"r","x":286.05,"y":10.03},{"s":"3r","k":"r","x":286.15,"y":10.0},{"s":"3r","k":"r","x":286.3,"y":9.84},{"s":"3r","k":"r","x":286.45,"y":9.55},{"s":"3r","k":"r","x":286.6,"y":9.22},{"s":"3r","k":"r","x":286.75,"y":8.84},{"s":"3r","k":"r","x":286.9,"y":8.42},{"s":"3r","k":"r","x":287.05,"y":8.02},{"s":"3r","k":"r","x":287.2,"y":7.7},{"s":"3r","k":"r","x":287.35,"y":7.62},{"s":"3r","k":"r","x":287.5,"y":7.68},{"s":"3r","k":"r","x":287.65,"y":7.86},{"s":"3r","k":"r","x":287.8,"y":7.98},{"s":"3r","k":"r","x":287.95,"y":7.78},{"s":"3r","k":"r","x":288.1,"y":7.5},{"s":"3r","k":"r","x":288.25,"y":7.55},{"s":"3r","k":"r","x":288.35,"y":7.15},{"s":"3r","k":"r","x":288.5,"y":7.06},{"s":"3r","k":"r","x":288.65,"y":7.1},{"s":"3r","k":"r","x":288.8,"y":7.06},{"s":"3r","k":"r","x":288.95,"y":6.98},{"s":"3r","k":"r","x":289.1,"y":7.02},{"s":"3r","k":"r","x":289.25,"y":6.92},{"s":"3r","k":"r","x":289.4,"y":6.86},{"s":"3r","k":"r","x":289.55,"y":6.78},{"s":"3r","k":"r","x":289.7,"y":6.68},{"s":"3r","k":"r","x":289.85,"y":6.63},{"s":"3r","k":"r","x":290.0,"y":6.57},{"s":"3r","k":"r","x":290.15,"y":6.54},{"s":"3r","k":"r","x":290.3,"y":6.52},{"s":"3r","k":"r","x":290.45,"y":6.51},{"s":"3r","k":"r","x":290.6,"y":6.48},{"s":"3r","k":"r","x":290.75,"y":6.51},{"s":"3r","k":"r","x":290.9,"y":6.49},{"s":"3r","k":"r","x":291.05,"y":6.5},{"s":"3r","k":"r","x":291.2,"y":6.48},{"s":"3r","k":"r","x":291.35,"y":6.5},{"s":"3r","k":"r","x":291.5,"y":6.49},
{"s":"2b","k":"b","x":282.0,"y":3.03},{"s":"2b","k":"b","x":291.5,"y":3.03},
{"s":"2c1","k":"c","x":283.23,"y":3.045},{"s":"2c1","k":"c","x":283.53,"y":3.09},{"s":"2c1","k":"c","x":283.83,"y":3.214},{"s":"2c1","k":"c","x":284.13,"y":3.472},{"s":"2c1","k":"c","x":284.43,"y":3.855},{"s":"2c1","k":"c","x":284.73,"y":4.23},{"s":"2c1","k":"c","x":285.03,"y":4.39},{"s":"2c1","k":"c","x":285.33,"y":4.23},{"s":"2c1","k":"c","x":285.63,"y":3.855},{"s":"2c1","k":"c","x":285.93,"y":3.472},{"s":"2c1","k":"c","x":286.23,"y":3.214},{"s":"2c1","k":"c","x":286.53,"y":3.09},{"s":"2c1","k":"c","x":286.83,"y":3.045},
{"s":"2c2","k":"c","x":284.3,"y":3.053},{"s":"2c2","k":"c","x":284.6,"y":3.12},{"s":"2c2","k":"c","x":284.9,"y":3.309},{"s":"2c2","k":"c","x":285.2,"y":3.699},{"s":"2c2","k":"c","x":285.5,"y":4.279},{"s":"2c2","k":"c","x":285.8,"y":4.848},{"s":"2c2","k":"c","x":286.1,"y":5.09},{"s":"2c2","k":"c","x":286.425,"y":4.848},{"s":"2c2","k":"c","x":286.75,"y":4.279},{"s":"2c2","k":"c","x":287.075,"y":3.699},{"s":"2c2","k":"c","x":287.4,"y":3.309},{"s":"2c2","k":"c","x":287.725,"y":3.12},{"s":"2c2","k":"c","x":288.05,"y":3.053},
{"s":"2c3","k":"c","x":286.74,"y":3.038},{"s":"2c3","k":"c","x":286.89,"y":3.061},{"s":"2c3","k":"c","x":287.04,"y":3.126},{"s":"2c3","k":"c","x":287.19,"y":3.261},{"s":"2c3","k":"c","x":287.34,"y":3.461},{"s":"2c3","k":"c","x":287.49,"y":3.657},{"s":"2c3","k":"c","x":287.64,"y":3.74},{"s":"2c3","k":"c","x":287.79,"y":3.657},{"s":"2c3","k":"c","x":287.94,"y":3.461},{"s":"2c3","k":"c","x":288.09,"y":3.261},{"s":"2c3","k":"c","x":288.24,"y":3.126},{"s":"2c3","k":"c","x":288.39,"y":3.061},{"s":"2c3","k":"c","x":288.54,"y":3.038},
{"s":"2c4","k":"c","x":287.19,"y":3.035},{"s":"2c4","k":"c","x":287.48,"y":3.049},{"s":"2c4","k":"c","x":287.77,"y":3.09},{"s":"2c4","k":"c","x":288.06,"y":3.173},{"s":"2c4","k":"c","x":288.35,"y":3.297},{"s":"2c4","k":"c","x":288.64,"y":3.418},{"s":"2c4","k":"c","x":288.93,"y":3.47},{"s":"2c4","k":"c","x":289.22,"y":3.418},{"s":"2c4","k":"c","x":289.51,"y":3.297},{"s":"2c4","k":"c","x":289.8,"y":3.173},{"s":"2c4","k":"c","x":290.09,"y":3.09},{"s":"2c4","k":"c","x":290.38,"y":3.049},{"s":"2c4","k":"c","x":290.67,"y":3.035},
{"s":"2f","k":"f","x":283.0,"y":3.034},{"s":"2f","k":"f","x":283.3,"y":3.051},{"s":"2f","k":"f","x":283.6,"y":3.109},{"s":"2f","k":"f","x":283.9,"y":3.263},{"s":"2f","k":"f","x":284.2,"y":3.566},{"s":"2f","k":"f","x":284.5,"y":4.01},{"s":"2f","k":"f","x":284.8,"y":4.491},{"s":"2f","k":"f","x":285.03,"y":4.81},{"s":"2f","k":"f","x":285.2,"y":5.006},{"s":"2f","k":"f","x":285.4,"y":5.199},{"s":"2f","k":"f","x":285.6,"y":5.352},{"s":"2f","k":"f","x":285.8,"y":5.444},{"s":"2f","k":"f","x":286.0,"y":5.429},{"s":"2f","k":"f","x":286.2,"y":5.27},{"s":"2f","k":"f","x":286.4,"y":4.982},{"s":"2f","k":"f","x":286.6,"y":4.606},{"s":"2f","k":"f","x":286.8,"y":4.216},{"s":"2f","k":"f","x":287.0,"y":3.9},{"s":"2f","k":"f","x":287.2,"y":3.771},{"s":"2f","k":"f","x":287.4,"y":3.838},{"s":"2f","k":"f","x":287.55,"y":3.906},{"s":"2f","k":"f","x":287.7,"y":3.871},{"s":"2f","k":"f","x":287.85,"y":3.719},{"s":"2f","k":"f","x":288.0,"y":3.527},{"s":"2f","k":"f","x":288.2,"y":3.364},{"s":"2f","k":"f","x":288.4,"y":3.353},{"s":"2f","k":"f","x":288.65,"y":3.424},{"s":"2f","k":"f","x":288.93,"y":3.47},{"s":"2f","k":"f","x":289.2,"y":3.425},{"s":"2f","k":"f","x":289.5,"y":3.301},{"s":"2f","k":"f","x":289.8,"y":3.173},{"s":"2f","k":"f","x":290.1,"y":3.088},{"s":"2f","k":"f","x":290.4,"y":3.048},{"s":"2f","k":"f","x":290.7,"y":3.034},
{"s":"2r","k":"r","x":282.0,"y":3.04},{"s":"2r","k":"r","x":282.1,"y":3.01},{"s":"2r","k":"r","x":282.15,"y":3.02},{"s":"2r","k":"r","x":282.3,"y":3.03},{"s":"2r","k":"r","x":282.4,"y":3.0},{"s":"2r","k":"r","x":282.45,"y":3.01},{"s":"2r","k":"r","x":282.6,"y":3.03},{"s":"2r","k":"r","x":282.7,"y":3.0},{"s":"2r","k":"r","x":282.75,"y":3.02},{"s":"2r","k":"r","x":282.9,"y":3.04},{"s":"2r","k":"r","x":283.05,"y":3.03},{"s":"2r","k":"r","x":283.2,"y":3.05},{"s":"2r","k":"r","x":283.35,"y":3.06},{"s":"2r","k":"r","x":283.5,"y":3.08},{"s":"2r","k":"r","x":283.65,"y":3.13},{"s":"2r","k":"r","x":283.8,"y":3.2},{"s":"2r","k":"r","x":283.95,"y":3.29},{"s":"2r","k":"r","x":284.1,"y":3.44},{"s":"2r","k":"r","x":284.25,"y":3.63},{"s":"2r","k":"r","x":284.4,"y":3.86},{"s":"2r","k":"r","x":284.55,"y":4.09},{"s":"2r","k":"r","x":284.7,"y":4.34},{"s":"2r","k":"r","x":284.85,"y":4.58},{"s":"2r","k":"r","x":285.0,"y":4.78},{"s":"2r","k":"r","x":285.15,"y":4.96},{"s":"2r","k":"r","x":285.3,"y":5.12},{"s":"2r","k":"r","x":285.45,"y":5.25},{"s":"2r","k":"r","x":285.6,"y":5.37},{"s":"2r","k":"r","x":285.75,"y":5.44},{"s":"2r","k":"r","x":285.9,"y":5.47},{"s":"2r","k":"r","x":286.05,"y":5.41},{"s":"2r","k":"r","x":286.2,"y":5.29},{"s":"2r","k":"r","x":286.35,"y":5.06},{"s":"2r","k":"r","x":286.5,"y":4.82},{"s":"2r","k":"r","x":286.65,"y":4.52},{"s":"2r","k":"r","x":286.8,"y":4.22},{"s":"2r","k":"r","x":286.95,"y":3.97},{"s":"2r","k":"r","x":287.1,"y":3.83},{"s":"2r","k":"r","x":287.25,"y":3.79},{"s":"2r","k":"r","x":287.4,"y":3.86},{"s":"2r","k":"r","x":287.55,"y":3.92},{"s":"2r","k":"r","x":287.7,"y":3.88},{"s":"2r","k":"r","x":287.85,"y":3.72},{"s":"2r","k":"r","x":288.0,"y":3.54},{"s":"2r","k":"r","x":288.15,"y":3.41},{"s":"2r","k":"r","x":288.3,"y":3.35},{"s":"2r","k":"r","x":288.45,"y":3.38},{"s":"2r","k":"r","x":288.6,"y":3.41},{"s":"2r","k":"r","x":288.75,"y":3.45},{"s":"2r","k":"r","x":288.9,"y":3.48},{"s":"2r","k":"r","x":289.05,"y":3.46},{"s":"2r","k":"r","x":289.2,"y":3.42},{"s":"2r","k":"r","x":289.35,"y":3.38},{"s":"2r","k":"r","x":289.5,"y":3.31},{"s":"2r","k":"r","x":289.65,"y":3.23},{"s":"2r","k":"r","x":289.8,"y":3.17},{"s":"2r","k":"r","x":289.95,"y":3.12},{"s":"2r","k":"r","x":290.1,"y":3.09},{"s":"2r","k":"r","x":290.25,"y":3.06},{"s":"2r","k":"r","x":290.4,"y":3.04},{"s":"2r","k":"r","x":290.55,"y":3.03},{"s":"2r","k":"r","x":290.7,"y":3.01},{"s":"2r","k":"r","x":290.85,"y":3.04},{"s":"2r","k":"r","x":291.0,"y":3.02},{"s":"2r","k":"r","x":291.15,"y":3.04},{"s":"2r","k":"r","x":291.3,"y":3.01},{"s":"2r","k":"r","x":291.5,"y":3.03},
{"s":"1r","k":"r","x":282.0,"y":1.52},{"s":"1r","k":"r","x":282.25,"y":1.53},{"s":"1r","k":"r","x":282.5,"y":1.51},{"s":"1r","k":"r","x":282.75,"y":1.52},{"s":"1r","k":"r","x":283.0,"y":1.5},{"s":"1r","k":"r","x":283.25,"y":1.52},{"s":"1r","k":"r","x":283.5,"y":1.51},{"s":"1r","k":"r","x":283.75,"y":1.5},{"s":"1r","k":"r","x":284.0,"y":1.52},{"s":"1r","k":"r","x":284.25,"y":1.5},{"s":"1r","k":"r","x":284.5,"y":1.51},{"s":"1r","k":"r","x":284.75,"y":1.49},{"s":"1r","k":"r","x":285.0,"y":1.5},{"s":"1r","k":"r","x":285.25,"y":1.52},{"s":"1r","k":"r","x":285.5,"y":1.5},{"s":"1r","k":"r","x":285.75,"y":1.51},{"s":"1r","k":"r","x":286.0,"y":1.52},{"s":"1r","k":"r","x":286.25,"y":1.51},{"s":"1r","k":"r","x":286.5,"y":1.5},{"s":"1r","k":"r","x":286.75,"y":1.51},{"s":"1r","k":"r","x":287.0,"y":1.49},{"s":"1r","k":"r","x":287.25,"y":1.51},{"s":"1r","k":"r","x":287.5,"y":1.5},{"s":"1r","k":"r","x":287.75,"y":1.51},{"s":"1r","k":"r","x":288.0,"y":1.5},{"s":"1r","k":"r","x":288.25,"y":1.52},{"s":"1r","k":"r","x":288.5,"y":1.5},{"s":"1r","k":"r","x":288.75,"y":1.49},{"s":"1r","k":"r","x":289.0,"y":1.5},{"s":"1r","k":"r","x":289.25,"y":1.48},{"s":"1r","k":"r","x":289.5,"y":1.5},{"s":"1r","k":"r","x":289.75,"y":1.51},{"s":"1r","k":"r","x":290.0,"y":1.52},{"s":"1r","k":"r","x":290.25,"y":1.5},{"s":"1r","k":"r","x":290.5,"y":1.51},{"s":"1r","k":"r","x":290.75,"y":1.52},{"s":"1r","k":"r","x":291.0,"y":1.5},{"s":"1r","k":"r","x":291.25,"y":1.51},{"s":"1r","k":"r","x":291.5,"y":1.5}
],
"Aarr": [{"x":285.4,"y":7.89,"y2":0.67},{"x":286.15,"y":8.75,"y2":0.67},{"x":287.08,"y":8.05,"y2":0.76}],
"Atip": [{"x":285.4,"y":0.67},{"x":286.15,"y":0.67},{"x":287.08,"y":0.76}],
"Alab": [{"x":285.23,"y":8.03,"t":"285.4"},{"x":286.16,"y":8.94,"t":"286.1"},{"x":287.23,"y":8.26,"t":"287.1"}],
"Anum": [{"x":289.95,"y":6.44,"t":"4"},{"x":289.93,"y":4.68,"t":"3"},{"x":289.95,"y":2.44,"t":"2"},{"x":289.95,"y":1.21,"t":"1"}],
"Aletter": [{"x":283.18,"y":9.02}],
"Ac1s": [{"x":290.31,"y":8.98}],
"Barr": [{"x":284.96,"y":12.88,"y2":0.92},{"x":286.15,"y":14.94,"y2":0.92},{"x":287.81,"y":13.61,"y2":0.92},{"x":288.9,"y":12.14,"y2":0.92}],
"Btip": [{"x":284.96,"y":0.92},{"x":286.15,"y":0.92},{"x":287.81,"y":0.92},{"x":288.9,"y":0.92}],
"Blab": [{"x":284.9,"y":13.22,"t":"285.0"},{"x":286.17,"y":15.27,"t":"286.1"},{"x":287.84,"y":13.93,"t":"287.8"},{"x":289.24,"y":12.5,"t":"288.9"}],
"Bnum": [{"x":281.76,"y":11.74,"t":"4"},{"x":281.76,"y":7.3,"t":"3"},{"x":281.76,"y":3.88,"t":"2"},{"x":281.76,"y":1.98,"t":"1"}],
"Bletter": [{"x":281.95,"y":16.2}],
"Bc1s": [{"x":291.5,"y":16.2}]
},
"hconcat": [
{
"width": 518, "height": 689,
"encoding": {
"x": {"field": "x", "type": "quantitative", "scale": {"domain": [282.5, 290.5], "nice": false, "zero": false},
 "axis": {"values": [282.5,283,283.5,284,284.5,285,285.5,286,286.5,287,287.5,288,288.5,289,289.5,290,290.5],
  "labelExpr": "datum.value % 1 === 0 ? format(datum.value, 'd') : ''",
  "tickSize": {"condition": {"test": "datum.value % 1 === 0", "value": 10}, "value": 5},
  "labelFontSize": 26, "labelColor": "#111", "labelPadding": 3, "labelFlush": false, "labelOverlap": false,
  "tickColor": "#111", "tickWidth": 1.5, "domainColor": "#111", "domainWidth": 2, "grid": false,
  "title": "Binding Energy\u00a0\u00a0[eV]", "titleFontSize": 31, "titleColor": "#17178c", "titleFontWeight": "normal", "titlePadding": 10, "titleX": 245}},
"y": {"field": "y", "type": "quantitative", "scale": {"domain": [0.4, 10.0], "nice": false, "zero": false},
 "axis": {"values": [1,2,3,4,5,6,7,8,9], "labels": false, "tickSize": -8, "tickColor": "#111", "tickWidth": 1.5,
  "domainColor": "#111", "domainWidth": 2, "grid": false,
  "title": "XPS\u00a0\u00a0Intensity\u00a0\u00a0[arb. un.]", "titleFontSize": 34, "titleColor": "#17178c", "titleFontWeight": "normal", "titlePadding": 20, "titleY": 371}}
},
"layer": [
{"data": {"name": "A"}, "transform": [{"filter": "datum.k === 'c' || datum.k === 'f'"}],
 "mark": {"type": "line", "interpolate": "monotone"},
 "encoding": {"detail": {"field": "s"},
  "color": {"field": "k", "type": "nominal", "scale": {"domain": ["r","f","c","b","n"], "range": ["#2a2a2a","#000000","#3a3a3a","#111111","#000000"]}, "legend": null},
  "strokeWidth": {"field": "k", "type": "nominal", "scale": {"domain": ["r","f","c","b","n"], "range": [1.1, 2.2, 1.0, 1.7, 2.0]}, "legend": null}}},
{"data": {"name": "A"}, "transform": [{"filter": "datum.k !== 'c' && datum.k !== 'f'"}],
 "mark": {"type": "line"},
 "encoding": {"detail": {"field": "s"},
  "color": {"field": "k", "type": "nominal", "scale": {"domain": ["r","f","c","b","n"], "range": ["#2a2a2a","#000000","#3a3a3a","#111111","#000000"]}, "legend": null},
  "strokeWidth": {"field": "k", "type": "nominal", "scale": {"domain": ["r","f","c","b","n"], "range": [1.1, 2.2, 1.0, 1.7, 2.0]}, "legend": null}}},
{"data": {"name": "Aarr"}, "mark": {"type": "rule", "color": "#222", "strokeWidth": 1.1}, "encoding": {"y2": {"field": "y2"}}},
{"data": {"name": "Atip"}, "mark": {"type": "point", "shape": "triangle-down", "filled": true, "color": "#222", "size": 40, "opacity": 1}},
{"data": {"name": "Alab"}, "mark": {"type": "text", "fontSize": 33, "baseline": "alphabetic", "align": "center", "color": "#111"}, "encoding": {"text": {"field": "t"}}},
{"data": {"name": "Anum"}, "mark": {"type": "text", "fontSize": 40, "baseline": "middle", "align": "center", "color": "#17178c"}, "encoding": {"text": {"field": "t"}}},
{"data": {"name": "Aletter"}, "mark": {"type": "text", "text": "a", "fontSize": 64, "fontStyle": "italic", "baseline": "alphabetic", "align": "center", "color": "#000"}},
{"data": {"name": "Ac1s"}, "mark": {"type": "text", "text": "s", "fontSize": 52, "baseline": "alphabetic", "align": "right", "color": "#17178c"}},
{"data": {"name": "Ac1s"}, "mark": {"type": "text", "text": "1", "fontSize": 52, "fontStyle": "italic", "baseline": "alphabetic", "align": "right", "dx": -28, "color": "#17178c"}},
{"data": {"name": "Ac1s"}, "mark": {"type": "text", "text": "C", "fontSize": 52, "baseline": "alphabetic", "align": "right", "dx": -59, "color": "#17178c"}}
]
},
{
"width": 524, "height": 689,
"encoding": {
"x": {"field": "x", "type": "quantitative", "scale": {"domain": [281, 292], "nice": false, "zero": false},
 "axis": {"values": [281,282,283,284,285,286,287,288,289,290,291,292],
  "labelExpr": "datum.value % 2 === 0 ? format(datum.value, 'd') : ''",
  "tickSize": {"condition": {"test": "datum.value % 2 === 0", "value": 9}, "value": 6},
  "labelFontSize": 26, "labelColor": "#111", "labelPadding": 3, "labelFlush": false, "labelOverlap": false,
  "tickColor": "#111", "tickWidth": 1.5, "domainColor": "#111", "domainWidth": 2, "grid": false,
  "title": "Binding Energy\u00a0\u00a0[eV]", "titleFontSize": 31, "titleColor": "#17178c", "titleFontWeight": "normal", "titlePadding": 10}},
"y": {"field": "y", "type": "quantitative", "scale": {"domain": [0.6, 18.0], "nice": false, "zero": false},
 "axis": {"values": [1,2,3,4,5,6,7,8,9,10,11,12,13,14,15,16,17], "labels": false, "tickSize": -8, "tickColor": "#111", "tickWidth": 1.5,
  "domainColor": "#111", "domainWidth": 2, "grid": false,
  "title": "XPS\u00a0\u00a0Intensity\u00a0\u00a0[arb. un.]", "titleFontSize": 34, "titleColor": "#17178c", "titleFontWeight": "normal", "titlePadding": 16, "titleY": 368}}
},
"layer": [
{"data": {"name": "B"}, "transform": [{"filter": "datum.k === 'c' || datum.k === 'f'"}],
 "mark": {"type": "line", "interpolate": "monotone"},
 "encoding": {"detail": {"field": "s"},
  "color": {"field": "k", "type": "nominal", "scale": {"domain": ["r","f","c","b","n"], "range": ["#2a2a2a","#000000","#3a3a3a","#111111","#000000"]}, "legend": null},
  "strokeWidth": {"field": "k", "type": "nominal", "scale": {"domain": ["r","f","c","b","n"], "range": [1.4, 2.2, 1.0, 1.7, 2.0]}, "legend": null}}},
{"data": {"name": "B"}, "transform": [{"filter": "datum.k !== 'c' && datum.k !== 'f'"}],
 "mark": {"type": "line"},
 "encoding": {"detail": {"field": "s"},
  "color": {"field": "k", "type": "nominal", "scale": {"domain": ["r","f","c","b","n"], "range": ["#2a2a2a","#000000","#3a3a3a","#111111","#000000"]}, "legend": null},
  "strokeWidth": {"field": "k", "type": "nominal", "scale": {"domain": ["r","f","c","b","n"], "range": [1.4, 2.2, 1.0, 1.7, 2.0]}, "legend": null}}},
{"data": {"name": "Barr"}, "mark": {"type": "rule", "color": "#222", "strokeWidth": 1.1}, "encoding": {"y2": {"field": "y2"}}},
{"data": {"name": "Btip"}, "mark": {"type": "point", "shape": "triangle-down", "filled": true, "color": "#222", "size": 40, "opacity": 1}},
{"data": {"name": "Blab"}, "mark": {"type": "text", "fontSize": 33, "baseline": "alphabetic", "align": "center", "color": "#111"}, "encoding": {"text": {"field": "t"}}},
{"data": {"name": "Bnum"}, "mark": {"type": "text", "fontSize": 40, "baseline": "middle", "align": "center", "color": "#17178c"}, "encoding": {"text": {"field": "t"}}},
{"data": {"name": "Bletter"}, "mark": {"type": "text", "text": "b", "fontSize": 64, "fontStyle": "italic", "baseline": "alphabetic", "align": "center", "color": "#000"}},
{"data": {"name": "Bc1s"}, "mark": {"type": "text", "text": "s", "fontSize": 52, "baseline": "alphabetic", "align": "right", "color": "#17178c"}},
{"data": {"name": "Bc1s"}, "mark": {"type": "text", "text": "1", "fontSize": 52, "fontStyle": "italic", "baseline": "alphabetic", "align": "right", "dx": -28, "color": "#17178c"}},
{"data": {"name": "Bc1s"}, "mark": {"type": "text", "text": "C", "fontSize": 52, "baseline": "alphabetic", "align": "right", "dx": -59, "color": "#17178c"}}
]
}
]
}
